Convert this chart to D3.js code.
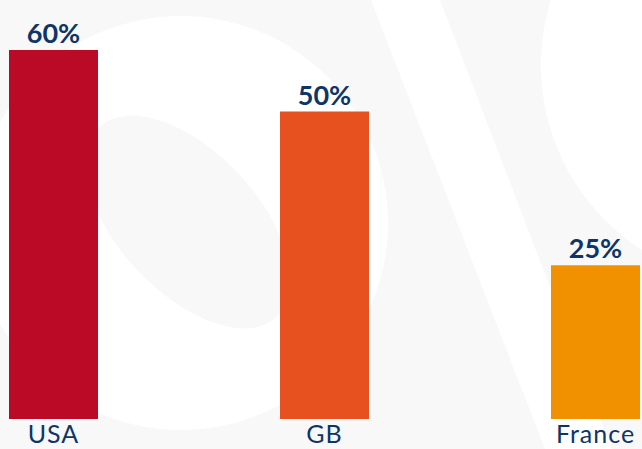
<!DOCTYPE html>
<html lang="en">
	<head>
		<meta charset="UTF-8" />
		<title>Share by country</title>
		<script src="https://d3js.org/d3.v7.min.js"></script>
		<style>
			html, body {
				margin: 0;
				padding: 0;
				background: #f8f8f8;
			}
			svg {
				display: block;
			}
		</style>
	</head>
	<body>
		<svg id="chart"></svg>

		<script>
			// Data
			const CATEGORIES = ["USA", "GB", "France"];
			const VALUES = [60, 50, 25];
			const BAR_COLORS = ["#ba0a26", "#e6511f", "#f29100"];

			// Define constants
			const WIDTH = 642;
			const HEIGHT = 449;
			const BASELINE = 419;
			const NAVY = "#0e3566";

			const svg = d3.select("#chart").attr("width", WIDTH).attr("height", HEIGHT);

			// Background watermark (decorative only)
			const deco = svg.append("g").attr("class", "watermark");
			deco.append("rect").attr("width", WIDTH).attr("height", HEIGHT).attr("fill", "#f8f8f8");
			deco.append("circle").attr("cx", 181).attr("cy", 223).attr("r", 207).attr("fill", "#fff");
			deco
				.append("ellipse")
				.attr("cx", 188)
				.attr("cy", 222)
				.attr("rx", 130)
				.attr("ry", 70)
				.attr("transform", "rotate(47 188 222)")
				.attr("fill", "#f8f8f8");
			deco
				.append("path")
				.attr("d", "M371,0 L440,0 L612,449 L545,449 Z")
				.attr("fill", "#fff");
			deco.append("circle").attr("cx", 761).attr("cy", 65).attr("r", 220).attr("fill", "#fff");

			// Scales
			const xScale = d3.scaleBand().domain(CATEGORIES).range([9, 640]).paddingInner(0.6716).paddingOuter(0);
			const yScale = d3.scaleLinear().domain([0, 60]).range([BASELINE, 50]);

			const chart = svg.append("g");

			// Bars
			chart
				.selectAll(".bar")
				.data(CATEGORIES)
				.enter()
				.append("rect")
				.classed("bar", true)
				.attr("x", (d) => xScale(d))
				.attr("width", xScale.bandwidth())
				.attr("y", (d, i) => yScale(VALUES[i]))
				.attr("height", (d, i) => BASELINE - yScale(VALUES[i]))
				.attr("fill", (d, i) => BAR_COLORS[i]);

			// Value labels
			chart
				.selectAll(".label")
				.data(CATEGORIES)
				.enter()
				.append("text")
				.classed("label", true)
				.text((d, i) => VALUES[i] + "%")
				.attr("x", (d) => xScale(d) + xScale.bandwidth() / 2)
				.attr("y", (d, i) => yScale(VALUES[i]) - 7)
				.attr("text-anchor", "middle")
				.attr("fill", NAVY)
				.style("font-family", "Lato, sans-serif")
				.style("font-weight", 700)
				.style("font-size", "27px");

			// Category axis (no line, no ticks)
			const axis = chart
				.append("g")
				.attr("transform", `translate(0, ${BASELINE})`)
				.call(d3.axisBottom(xScale).tickSize(0).tickPadding(0));
			axis.select(".domain").remove();
			axis
				.selectAll("text")
				.attr("dy", 0)
				.attr("y", 24)
				.attr("fill", NAVY)
				.style("font-family", "Lato, sans-serif")
				.style("font-weight", 400)
				.style("font-size", "25px")
				.style("letter-spacing", "1px");
		</script>
	</body>
</html>
